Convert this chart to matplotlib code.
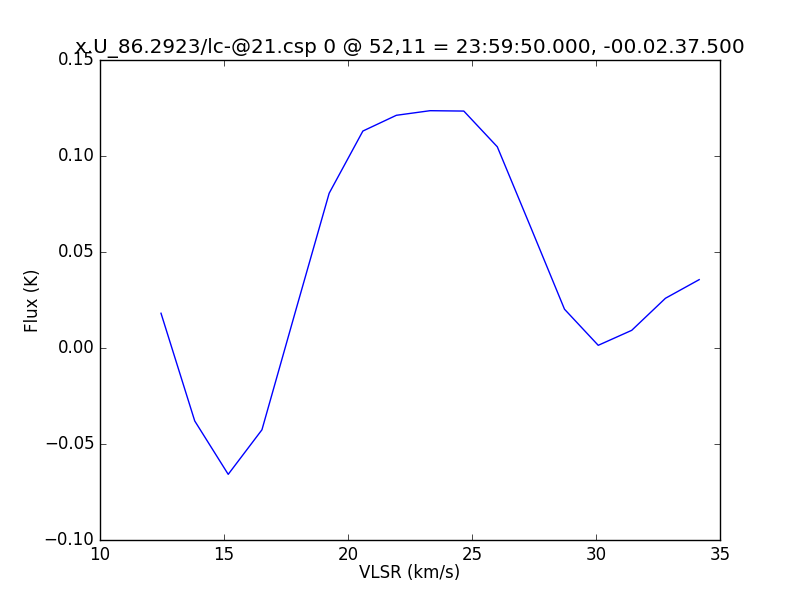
import matplotlib
matplotlib.use("Agg")
import matplotlib.pyplot as plt
import numpy as np

plt.style.use("classic")

vlsr = [12.46, 13.82, 15.17, 16.53, 17.88, 19.24, 20.60, 21.95, 23.31,
        24.67, 26.02, 27.38, 28.73, 30.09, 31.44, 32.80, 34.16]
flux = [0.0181, -0.0380, -0.0658, -0.0426, 0.0190, 0.0806, 0.1130, 0.1212,
        0.1236, 0.1234, 0.1048, 0.0625, 0.0202, 0.0014, 0.0092, 0.0259, 0.0356]

title = "x.U_86.2923/lc-@21.csp 0 @ 52,11 = 23:59:50.000, -00.02.37.500"

fig = plt.figure(figsize=(8, 6), dpi=100, facecolor="white")
ax = fig.add_subplot(111)
ax.plot(vlsr, flux, color="b", linewidth=1.0)
ax.set_xlim(10, 35)
ax.set_ylim(-0.10, 0.15)
ax.set_xticks([10, 15, 20, 25, 30, 35])
ax.set_yticks([-0.10, -0.05, 0.00, 0.05, 0.10, 0.15])
ax.set_yticklabels(["\u22120.10", "\u22120.05", "0.00", "0.05", "0.10", "0.15"])
ax.set_xlabel("VLSR (km/s)", labelpad=0)
ax.set_ylabel("Flux (K)", labelpad=1.5)
ax.set_title(title)
fig.savefig("out.png", dpi=100, facecolor="white")
